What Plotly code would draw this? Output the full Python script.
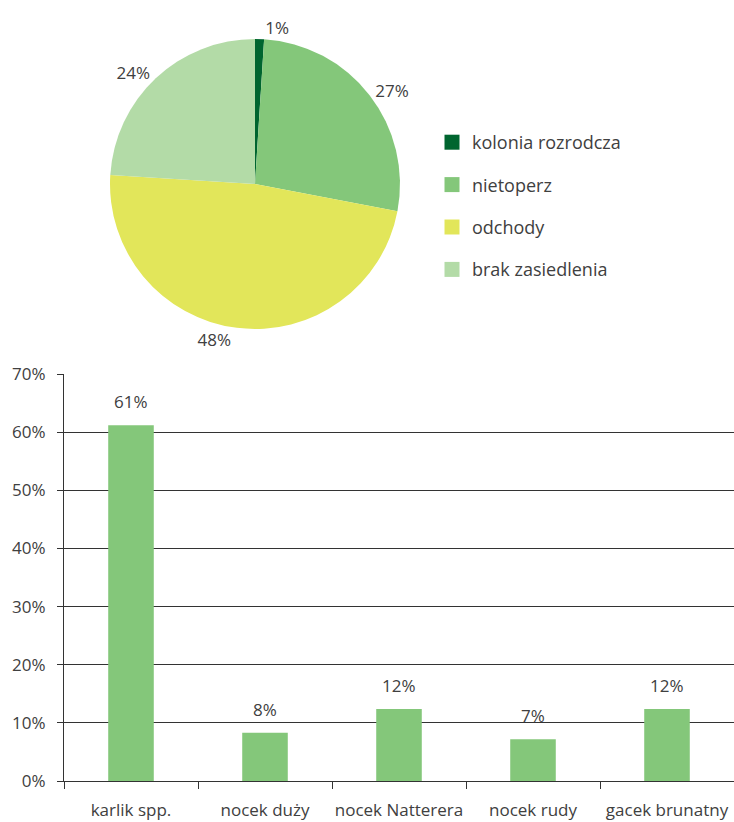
import plotly.graph_objects as go

# Pie: roost occupancy categories
pie_labels = ["kolonia rozrodcza", "nietoperz", "odchody", "brak zasiedlenia"]
pie_values = [1, 27, 48, 24]
pie_colors = ["#00652F", "#84C77A", "#E2E65A", "#B3DBA7"]

# Bars: species share
species = ["karlik spp.", "nocek duży", "nocek Natterera", "nocek rudy", "gacek brunatny"]
shares = [61.2, 8.3, 12.4, 7.2, 12.4]
bar_color = "#84C77A"
y_ticks = [0, 10, 20, 30, 40, 50, 60, 70]
y_ticktext = [f"{v}%" for v in y_ticks]

W, H = 734, 822
FONT = "Open Sans"
TXT = "#404040"
GRID = "#333333"

fig = go.Figure()

fig.add_trace(go.Pie(
    labels=pie_labels,
    values=pie_values,
    marker=dict(colors=pie_colors, line=dict(width=0)),
    sort=False,
    direction="clockwise",
    rotation=0,
    textposition="outside",
    texttemplate="%{value}%",
    textfont=dict(family=FONT, size=17, color=TXT),
    domain=dict(x=[110 / W, 400 / W], y=[1 - 329 / H, 1 - 39 / H]),
    showlegend=False,
    automargin=False,
    hoverinfo="label+percent",
))

fig.add_trace(go.Bar(
    x=species,
    y=shares,
    marker=dict(color=bar_color, line=dict(width=0)),
    width=0.34,
    showlegend=False,
))

# value labels above the bars
for sp, v in zip(species, shares):
    fig.add_annotation(
        x=sp, y=v, xref="x", yref="y",
        text=f"{v:.0f}%", showarrow=False,
        yanchor="bottom", yshift=10,
        font=dict(family=FONT, size=17, color=TXT),
    )

# legend entries for the pie categories, each in its own group for spacing
for lab, col in zip(pie_labels, pie_colors):
    fig.add_trace(go.Scatter(
        x=[None], y=[None], mode="markers", name=lab,
        marker=dict(symbol="square", size=15, color=col, line=dict(width=0)),
        legendgroup=lab, showlegend=True,
    ))

fig.update_layout(
    width=W, height=H,
    margin=dict(l=0, r=0, t=0, b=0, autoexpand=False),
    paper_bgcolor="white",
    plot_bgcolor="white",
    font=dict(family=FONT, size=17, color=TXT),
    legend=dict(
        x=432 / W, y=1 - 124 / H, xanchor="left", yanchor="top",
        tracegroupgap=16,
        font=dict(family=FONT, size=18, color=TXT),
        bgcolor="rgba(0,0,0,0)",
        itemclick=False, itemdoubleclick=False,
    ),
    xaxis=dict(
        domain=[64 / W, 1.0],
        anchor="y",
        type="category",
        automargin=False,
        tickangle=0,
        showline=True, linecolor=GRID, linewidth=1,
        ticks="outside", tickson="boundaries", ticklen=7, tickcolor=GRID,
        ticklabelstandoff=14,
        showgrid=False,
        tickfont=dict(family=FONT, size=17, color=TXT),
        fixedrange=True,
    ),
    yaxis=dict(
        domain=[1 - 781 / H, 1 - 374 / H],
        anchor="x",
        range=[0, 70],
        tickmode="array",
        tickvals=y_ticks,
        ticktext=y_ticktext,
        automargin=False,
        showline=True, linecolor=GRID, linewidth=1,
        ticks="outside", ticklen=6, tickcolor=GRID,
        showgrid=True, gridcolor=GRID, gridwidth=1,
        zeroline=False,
        ticklabelstandoff=8,
        tickfont=dict(family=FONT, size=17, color=TXT),
        fixedrange=True,
    ),
)

fig.write_html("out.html")
